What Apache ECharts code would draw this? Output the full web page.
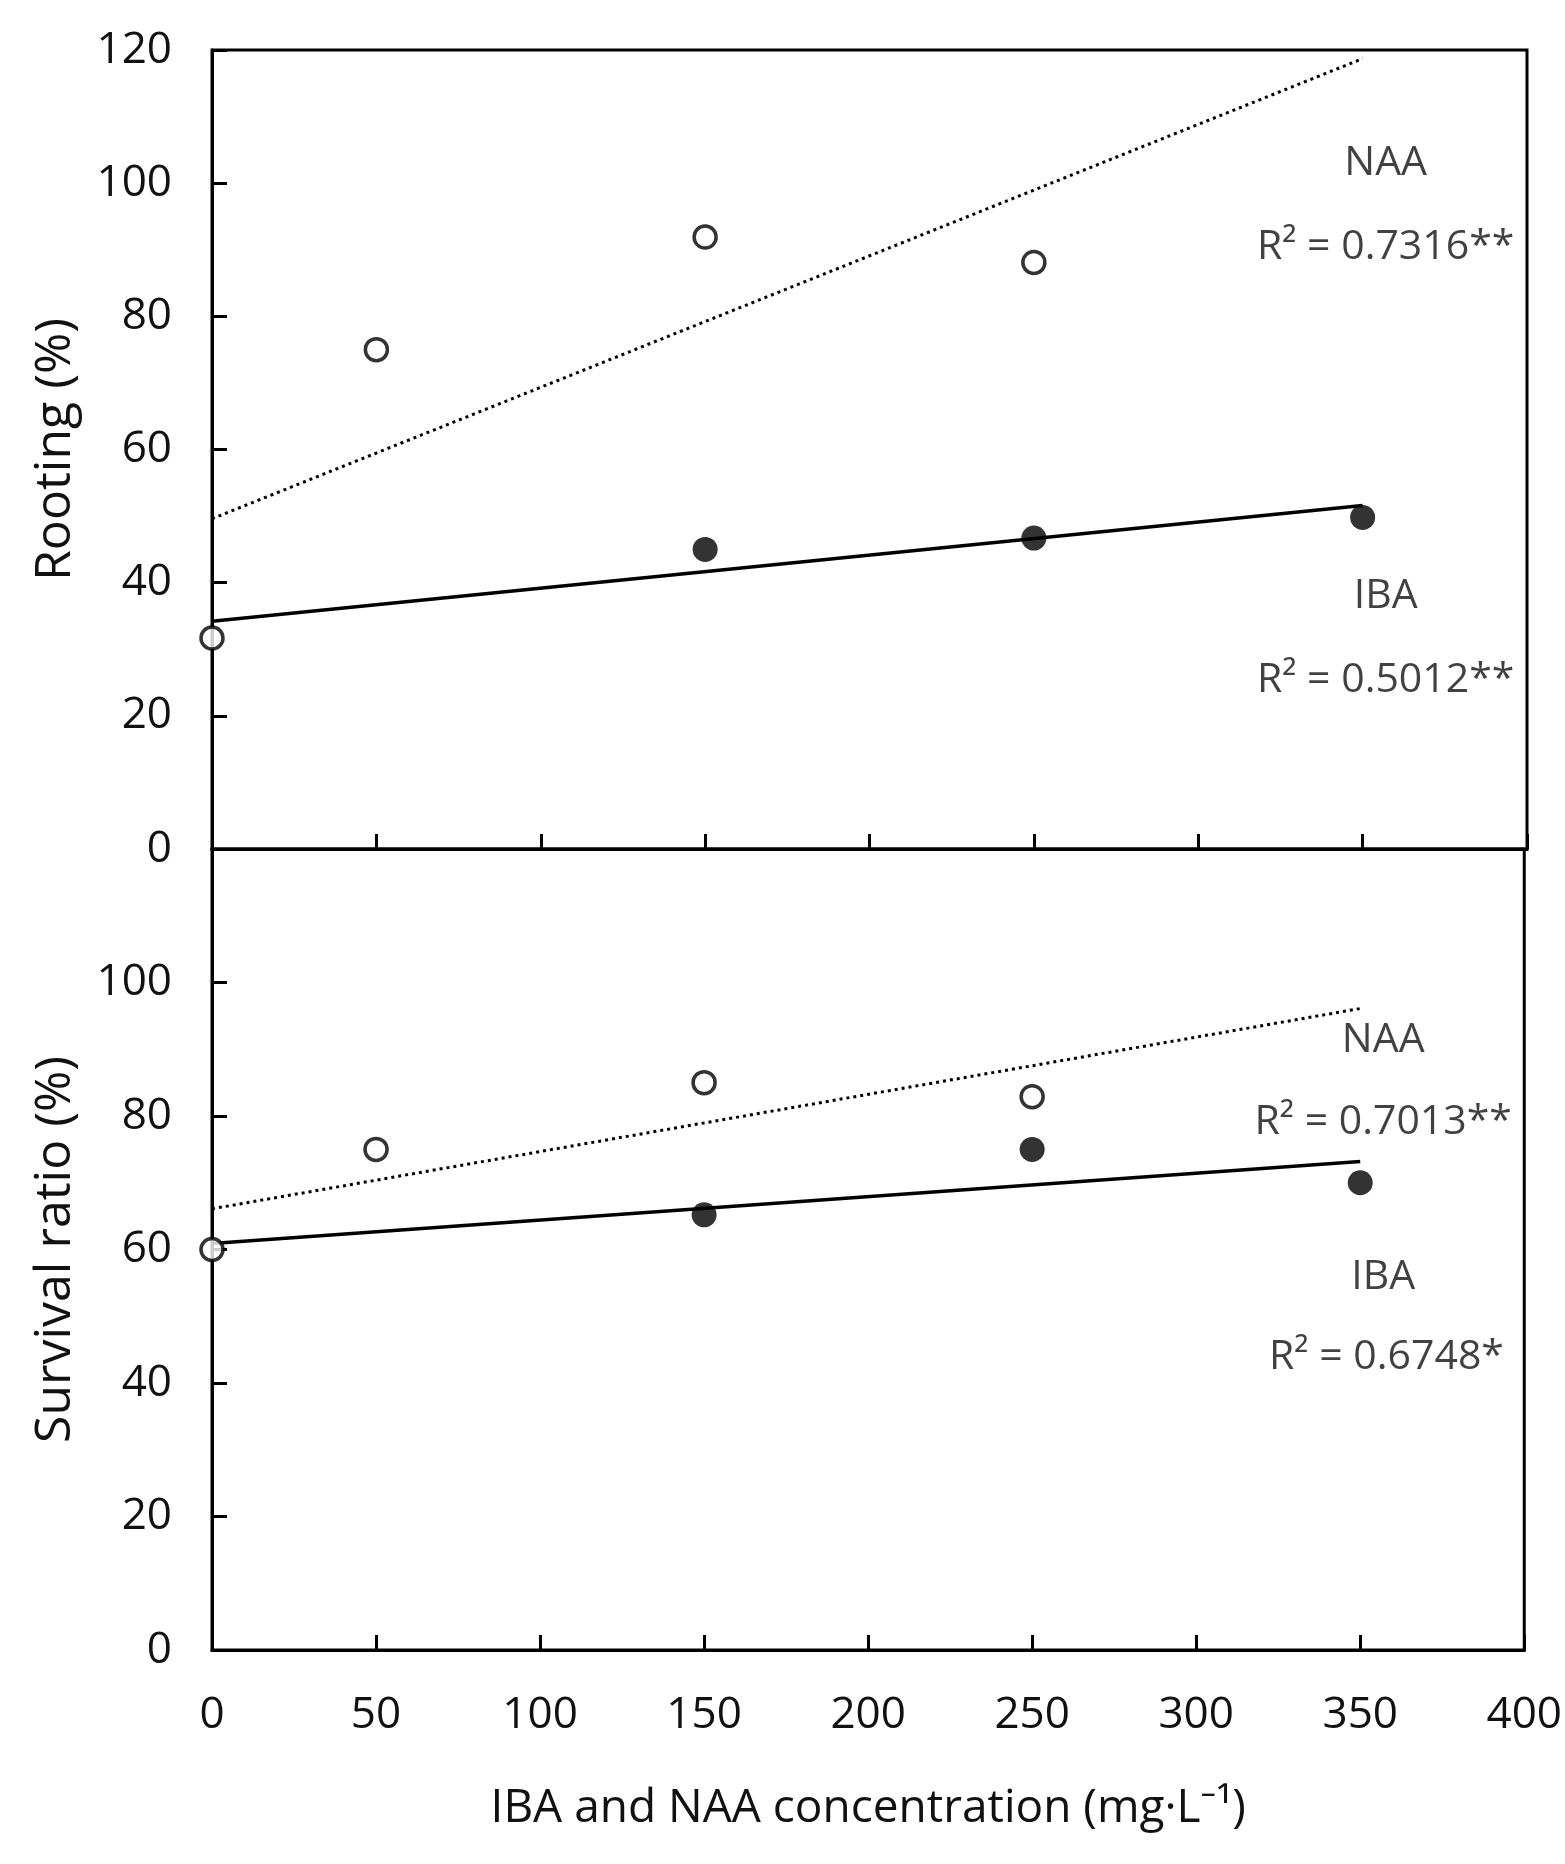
<!DOCTYPE html>
<html>
<head>
<meta charset="utf-8">
<script src="https://cdn.jsdelivr.net/npm/echarts@6/dist/echarts.min.js"></script>
<style>
html,body{margin:0;padding:0;background:#fff;}
#chart{width:1565px;height:1864px;}
</style>
</head>
<body>
<div id="chart"></div>
<script>
// ---- data ----
const xTicks = [0, 50, 100, 150, 200, 250, 300, 350, 400];
const yTicks = [0, 20, 40, 60, 80, 100, 120];

// Rooting (%)
const rootNAA = [[0, 31.7], [50, 75.0], [150, 91.9], [250, 88.1]];
const rootIBA = [[150, 45.0], [250, 46.7], [350, 49.8]];
const rootNAATrend = [[0, 49.6], [350, 118.7]];
const rootIBATrend = [[0, 34.2], [350, 51.6]];
const rootTexts = ['NAA', 'R\u00B2 = 0.7316**', 'IBA', 'R\u00B2 = 0.5012**'];

// Survival ratio (%)
const survNAA = [[0, 60.0], [50, 75.0], [150, 85.0], [250, 82.9]];
const survIBA = [[150, 65.2], [250, 75.0], [350, 70.0]];
const survNAATrend = [[0, 66.1], [350, 96.1]];
const survIBATrend = [[0, 60.9], [350, 73.2]];
const survTexts = ['NAA', 'R\u00B2 = 0.7013**', 'IBA', 'R\u00B2 = 0.6748*'];

const xTitle = 'IBA and NAA concentration (mg\u00B7L\u207B\u00B9)';
const yTitles = ['Rooting (%)', 'Survival ratio (%)'];

// ---- chart ----
const FONT = '"Open Sans", "Noto Sans", sans-serif';
const chart = echarts.init(document.getElementById('chart'));

function xAxisCfg(idx, showLabels) {
  return {
    type: 'value', gridIndex: idx, min: xTicks[0], max: xTicks[xTicks.length - 1], interval: 50,
    axisLine: {show: true, onZero: false, lineStyle: {color: '#000', width: 3}},
    axisTick: {show: true, inside: true, length: 15, lineStyle: {color: '#000', width: 3}},
    axisLabel: {show: showLabels, margin: 43, fontSize: 44, color: '#111', fontFamily: FONT},
    splitLine: {show: false},
    name: showLabels ? xTitle : '', nameLocation: 'middle', nameGap: 136,
    nameTextStyle: {fontSize: 46, color: '#111', fontFamily: FONT}
  };
}
function yAxisCfg(idx, hideTop) {
  return {
    type: 'value', gridIndex: idx, min: yTicks[0], max: yTicks[yTicks.length - 1], interval: 20,
    axisLine: {show: true, onZero: false, lineStyle: {color: '#000', width: 3}},
    axisTick: {show: true, inside: true, length: 15, lineStyle: {color: '#000', width: 3}},
    axisLabel: {margin: 40, fontSize: 44, color: '#111', fontFamily: FONT,
      formatter: v => (hideTop && v === 120) ? '' : String(v)},
    splitLine: {show: false},
    name: yTitles[idx], nameLocation: 'middle', nameGap: 131,
    nameTextStyle: {fontSize: 50, color: '#111', fontFamily: FONT}
  };
}
function trend(idx, data, dotted) {
  return {
    type: 'line', xAxisIndex: idx, yAxisIndex: idx, data: data, symbol: 'none', silent: true,
    lineStyle: {color: '#000', width: dotted ? 3 : 3.5, type: dotted ? [3, 4] : 'solid'}, z: 2
  };
}
function pts(idx, data, open) {
  return {
    type: 'scatter', xAxisIndex: idx, yAxisIndex: idx, data: data, symbol: 'circle',
    symbolSize: open ? 22 : 25,
    itemStyle: open ? {color: '#fff', borderColor: '#000', borderWidth: 3.5} : {color: '#000'},
    z: open ? 4 : 3
  };
}
function texts(idx, labels, coords) {
  return {
    type: 'scatter', xAxisIndex: idx, yAxisIndex: idx, symbolSize: 1, silent: true,
    itemStyle: {color: 'rgba(0,0,0,0)'},
    data: labels.map((t, i) => ({value: coords[i], name: t})),
    label: {show: true, position: 'inside', formatter: p => p.name,
      fontSize: 41, color: '#111', fontFamily: FONT}, z: 5
  };
}

chart.setOption({
  backgroundColor: '#fff',
  animation: false,
  grid: [
    {left: 212, top: 50, width: 1315, height: 799, show: true, borderColor: '#000', borderWidth: 3, backgroundColor: 'transparent'},
    {left: 212, top: 849, width: 1315, height: 801, show: true, borderColor: '#000', borderWidth: 3, backgroundColor: 'transparent'}
  ],
  xAxis: [xAxisCfg(0, false), xAxisCfg(1, true)],
  yAxis: [yAxisCfg(0, false), yAxisCfg(1, true)],
  series: [
    trend(0, rootNAATrend, true), trend(0, rootIBATrend, false),
    pts(0, rootIBA, false), pts(0, rootNAA, true),
    texts(0, rootTexts, [[357, 103], [357, 90.4], [357, 38], [357, 25.4]]),
    trend(1, survNAATrend, true), trend(1, survIBATrend, false),
    pts(1, survIBA, false), pts(1, survNAA, true),
    texts(1, survTexts, [[357, 91.3], [357, 79.1], [357, 55.9], [358, 43.9]])
  ]
});
</script>
</body>
</html>
